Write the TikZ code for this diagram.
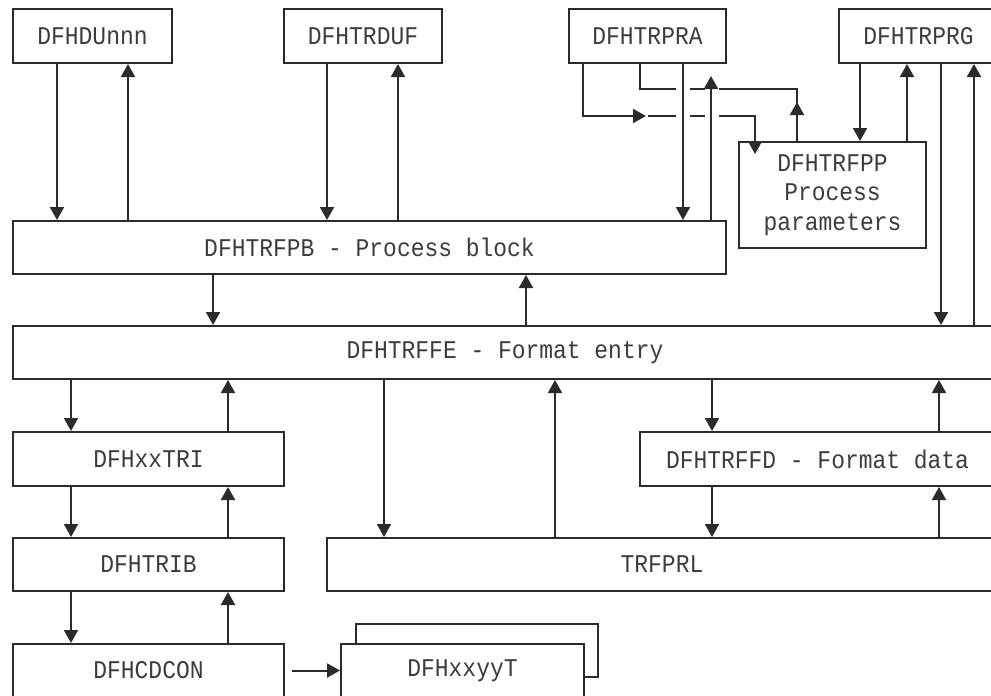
\documentclass[tikz,border=0pt]{standalone}
\usepackage{fontspec}
\setmainfont[FakeStretch=0.9]{Liberation Mono}
\usetikzlibrary{arrows.meta}
\definecolor{ln}{HTML}{2B2B2B}
\definecolor{tx}{HTML}{3C3C3C}
\tikzset{
  box/.style={draw=ln, line width=2pt, fill=white, inner sep=0pt, text=tx,
    font=\fontsize{25.5}{29.5}\selectfont, align=center},
  link/.style={draw=ln, line width=2pt},
  arr/.style={link, -{Triangle[length=13pt,width=14pt]}},
}
\begin{document}
\begin{tikzpicture}[x=1pt,y=-1pt]
\useasboundingbox (0,0) rectangle (991,696);
\clip (0,0) rectangle (991,696);
% top row
\node[box, minimum width=159pt, minimum height=54pt] (du)  at (92.5,36)  {DFHDUnnn};
\node[box, minimum width=158pt, minimum height=54pt] (duf) at (363,36)   {DFHTRDUF};
\node[box, minimum width=157pt, minimum height=54pt] (pra) at (647.5,36) {DFHTRPRA};
\node[box, minimum width=159pt, minimum height=54pt] (prg) at (918.5,36) {DFHTRPRG};
\node[box, minimum width=187pt, minimum height=106pt] (fpp) at (832.5,195) {DFHTRFPP\\Process\\parameters};
% middle
\node[box, minimum width=713pt, minimum height=53pt] (fpb) at (369.5,247.5) {DFHTRFPB - Process block};
\node[box, minimum width=984pt, minimum height=53pt] (ffe) at (505,352.5) {DFHTRFFE - Format entry};
\node[box, minimum width=271pt, minimum height=54pt] (xtri) at (148.5,459) {DFHxxTRI};
\node[box, minimum width=355pt, minimum height=54pt] (ffd) at (817.5,459) {DFHTRFFD - Format data};
\node[box, minimum width=271pt, minimum height=53pt] (trib) at (148.5,564.5) {DFHTRIB};
\node[box, minimum width=670pt, minimum height=53pt] (prl) at (662,564.5) {TRFPRL};
\node[box, minimum width=271pt, minimum height=53pt] (cdc) at (148.5,670.5) {DFHCDCON};
\node[box, minimum width=242pt, minimum height=53pt] (xyb) at (477,650.5) {};
\node[box, minimum width=243pt, minimum height=53pt] (xyt) at (462.5,670.5) {DFHxxyyT};

% top row <-> process block
\draw[arr] (du.south -| 57,0) -- (fpb.north -| 57,0);
\draw[arr] (fpb.north -| 128,0) -- (du.south -| 128,0);
\draw[arr] (duf.south -| 327,0) -- (fpb.north -| 327,0);
\draw[arr] (fpb.north -| 398,0) -- (duf.south -| 398,0);
\draw[arr] (pra.south -| 683,0) -- (fpb.north -| 683,0);
\coordinate (upend) at (711,76);
\draw[arr] (fpb.north -| 711,0) -- (upend);

% DFHTRPRA -> DFHTRFPP (gaps at crossings)
\coordinate (midA) at (646,116);
\coordinate (fppin) at (755,154);
\draw[arr] (pra.south -| 583,0) |- (midA);
\draw[link] (648,116) -- (676,116);
\draw[link] (690,116) -- (705,116);
\draw[arr] (719,116) -| (fppin);

% DFHTRFPP -> DFHTRPRA
\coordinate (midB) at (797,102);
\draw[arr] (fpp.north -| 797,0) -- (midB);
\draw[link] (797,103) -- (797,89) -- (719,89);
\draw[link] (705,89) -- (690,89);
\draw[link] (676,89) -- (640,89) -- (pra.south -| 640,0);

% DFHTRPRG
\draw[arr] (prg.south -| 860,0) -- (fpp.north -| 860,0);
\draw[arr] (fpp.north -| 907,0) -- (prg.south -| 907,0);
\draw[arr] (prg.south -| 941,0) -- (ffe.north -| 941,0);
\draw[arr] (ffe.north -| 974,0) -- (prg.south -| 974,0);

% process block <-> format entry
\draw[arr] (fpb.south -| 213,0) -- (ffe.north -| 213,0);
\draw[arr] (ffe.north -| 526,0) -- (fpb.south -| 526,0);

% left column
\draw[arr] (ffe.south -| 71,0) -- (xtri.north -| 71,0);
\draw[arr] (xtri.north -| 228,0) -- (ffe.south -| 228,0);
\draw[arr] (xtri.south -| 71,0) -- (trib.north -| 71,0);
\draw[arr] (trib.north -| 228,0) -- (xtri.south -| 228,0);
\draw[arr] (trib.south -| 71,0) -- (cdc.north -| 71,0);
\draw[arr] (cdc.north -| 228,0) -- (trib.south -| 228,0);
\draw[arr] ([xshift=7pt]cdc.east) -- (xyt.west);

% format entry <-> TRFPRL / format data
\draw[arr] (ffe.south -| 384,0) -- (prl.north -| 384,0);
\draw[arr] (prl.north -| 555,0) -- (ffe.south -| 555,0);
\draw[arr] (ffe.south -| 712,0) -- (ffd.north -| 712,0);
\draw[arr] (ffd.north -| 939,0) -- (ffe.south -| 939,0);
\draw[arr] (ffd.south -| 712,0) -- (prl.north -| 712,0);
\draw[arr] (prl.north -| 939,0) -- (ffd.south -| 939,0);
\end{tikzpicture}
\end{document}
